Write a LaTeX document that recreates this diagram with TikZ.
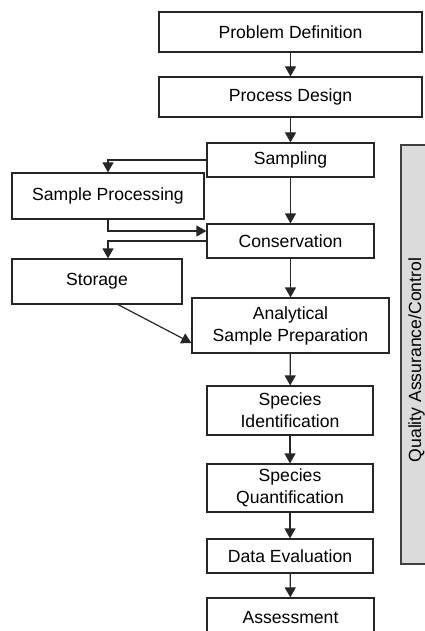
\documentclass[tikz,border=0pt]{standalone}
\usepackage{fontspec}
\setmainfont{Liberation Sans}
\usetikzlibrary{arrows.meta,calc}

\tikzset{
  flowbox/.style={draw=black!85, line width=1.2pt, fill=white, rectangle,
    inner sep=0pt, align=center,
    font=\fontsize{17.6}{22}\selectfont},
  flowarrow/.style={draw=black!85, line width=1.2pt,
    -{Triangle[length=10pt,width=11pt]}},
  qabox/.style={draw=black!75, line width=1.2pt, fill=black!14, rectangle,
    inner sep=0pt},
}

\begin{document}
\begin{tikzpicture}[x=1pt, y=-1pt]
  \useasboundingbox (0,0) rectangle (425,631);
  \clip (0,0) rectangle (425,631);

  % quality assurance band along the right side
  \node[qabox, minimum width=31pt, minimum height=419pt] (qa) at (416.5,354.5) {};
  \node[rotate=90, font=\fontsize{17.6}{22}\selectfont] (qatext) at (416.5,360) {Quality Assurance/Control};

  % main chain
  \node[flowbox, minimum width=263pt, minimum height=40pt] (pd)   at (290.5,32)    {Problem Definition};
  \node[flowbox, minimum width=263pt, minimum height=40pt] (des)  at (290.5,97)    {Process Design};
  \node[flowbox, minimum width=167pt, minimum height=34pt] (samp) at (290.5,160)   {Sampling};
  \node[flowbox, minimum width=167pt, minimum height=34pt] (cons) at (290.5,241)   {Conservation};
  \node[flowbox, minimum width=197pt, minimum height=55pt] (asp)  at (290.5,325.5) {Analytical\\Sample Preparation};
  \node[flowbox, minimum width=166pt, minimum height=49pt] (sid)  at (290,410.5)   {Species\\Identification};
  \node[flowbox, minimum width=166pt, minimum height=48pt] (squ)  at (290,488)     {Species\\Quantification};
  \node[flowbox, minimum width=166pt, minimum height=34pt] (dev)  at (290,556)     {Data Evaluation};
  \node[flowbox, minimum width=167pt, minimum height=40pt] (ass)  at (290.5,618)   {Assessment};

  % side branch
  \node[flowbox, minimum width=192pt, minimum height=46pt] (proc) at (108,196)     {Sample Processing};
  \node[flowbox, minimum width=170pt, minimum height=45pt] (stor) at (97,281.5)    {Storage};

  % connector end points
  \coordinate (consin)  at ([yshift=10pt]cons.west);
  \coordinate (storin)  at ([xshift=11pt]stor.north);
  \coordinate (storout) at ([xshift=21pt]stor.south);
  \coordinate (aspin)   at ([yshift=-17.5pt]asp.west);

  % main chain arrows
  \draw[flowarrow] (pd) -- (des);
  \draw[flowarrow] (des) -- (samp);
  \draw[flowarrow] (samp) -- (cons);
  \draw[flowarrow] (cons) -- (asp);
  \draw[flowarrow] (asp) -- (sid);
  \draw[flowarrow] (sid) -- (squ);
  \draw[flowarrow] (squ) -- (dev);
  \draw[flowarrow] (dev) -- (ass);

  % side branch arrows
  \draw[flowarrow] (samp.west) -| (proc.north);
  \draw[flowarrow] (proc.south) |- (consin);
  \draw[flowarrow] (cons.west) -| (storin);
  \draw[flowarrow] (storout) -- (aspin);
\end{tikzpicture}
\end{document}
